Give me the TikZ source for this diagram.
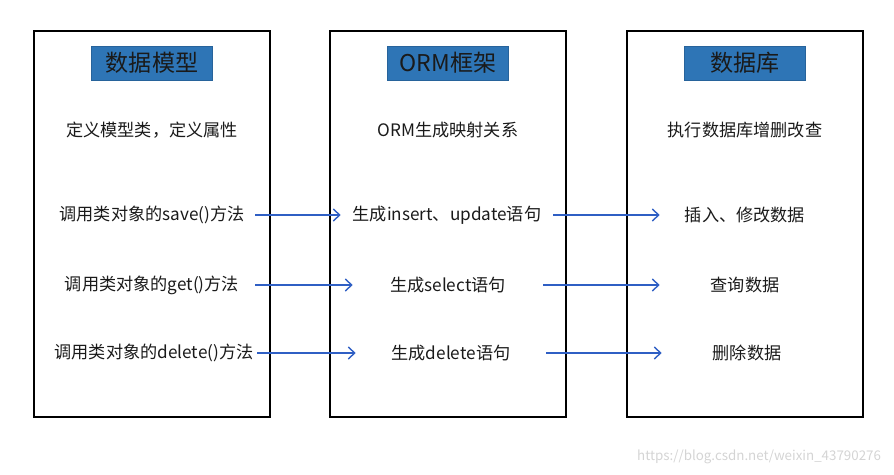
\documentclass[tikz,border=0pt]{standalone}
\usepackage{fontspec}
\setmainfont{Noto Sans CJK SC}
\usepackage{tikz}
\usetikzlibrary{arrows.meta}
\definecolor{ormTitle}{HTML}{2E75B6}
\definecolor{ormArrow}{HTML}{2F5FC4}
\definecolor{ormInk}{HTML}{1A1A1A}
\definecolor{ormMark}{HTML}{D4D4D4}
\tikzset{
  orm diagram/.style={x=0.025cm, y=-0.025cm, text=ormInk,
    font=\fontsize{12.2}{14}\selectfont},
  orm column/.style={draw=black, line width=1.3pt, minimum width=5.9cm,
    minimum height=9.65cm, inner sep=0pt},
  orm title/.style={fill=ormTitle, draw=ormTitle!85!black, line width=0.4pt,
    minimum width=3.03cm, minimum height=0.85cm, inner sep=0pt,
    font=\fontsize{16.4}{18}\selectfont},
  orm left/.style={minimum width=5.15cm, inner sep=0pt},
  orm mid/.style={minimum width=4.75cm, inner sep=0pt},
  orm right/.style={minimum width=4.25cm, inner sep=0pt},
  orm arrow/.style={-{Straight Barb[length=1.6mm,width=3mm]}, draw=ormArrow,
    line width=1pt},
  orm mark/.style={text=ormMark, font=\fontsize{9.5}{11}\selectfont}
}
\begin{document}
\begin{tikzpicture}[orm diagram]
\useasboundingbox (0,0) rectangle (894,474);
% three columns
\node[orm column] (model) at (152,224) {};
\node[orm column] (orm) at (448,224) {};
\node[orm column] (db) at (745,224) {};
\node[orm title] (modelTitle) at (152,63) {数据模型};
\node[orm title] (ormTitle) at (448,63) {ORM框架};
\node[orm title] (dbTitle) at (745,63) {数据库};
% rows
\node[orm left] (define) at (152,130) {定义模型类，定义属性};
\node[orm mid] (mapping) at (448,130) {ORM生成映射关系};
\node[orm right] (execute) at (745,130) {执行数据库增删改查};
\node[orm left] (save) at (152,215) {调用类对象的save()方法};
\node[orm mid,minimum width=5.3cm] (insert) at (447,215) {生成insert、update语句};
\node[orm right] (modify) at (745,215) {插入、修改数据};
\node[orm left] (get) at (152,285) {调用类对象的get()方法};
\node[orm mid] (select) at (448,285) {生成select语句};
\node[orm right] (query) at (745,285) {查询数据};
\node[orm left] (delete) at (154,353) {调用类对象的delete()方法};
\node[orm mid] (deleteSql) at (451,353) {生成delete语句};
\node[orm right] (remove) at (747,353) {删除数据};
% arrows
\draw[orm arrow] (save) -- (insert);
\draw[orm arrow] (insert) -- (modify);
\draw[orm arrow] (get) -- (select);
\draw[orm arrow] (select) -- (query);
\draw[orm arrow] (delete) -- (deleteSql);
\draw[orm arrow] (deleteSql) -- (remove);
\node[orm mark,anchor=east] (mark) at (886,457) {https://blog.csdn.net/weixin\_43790276};
\end{tikzpicture}
\end{document}
